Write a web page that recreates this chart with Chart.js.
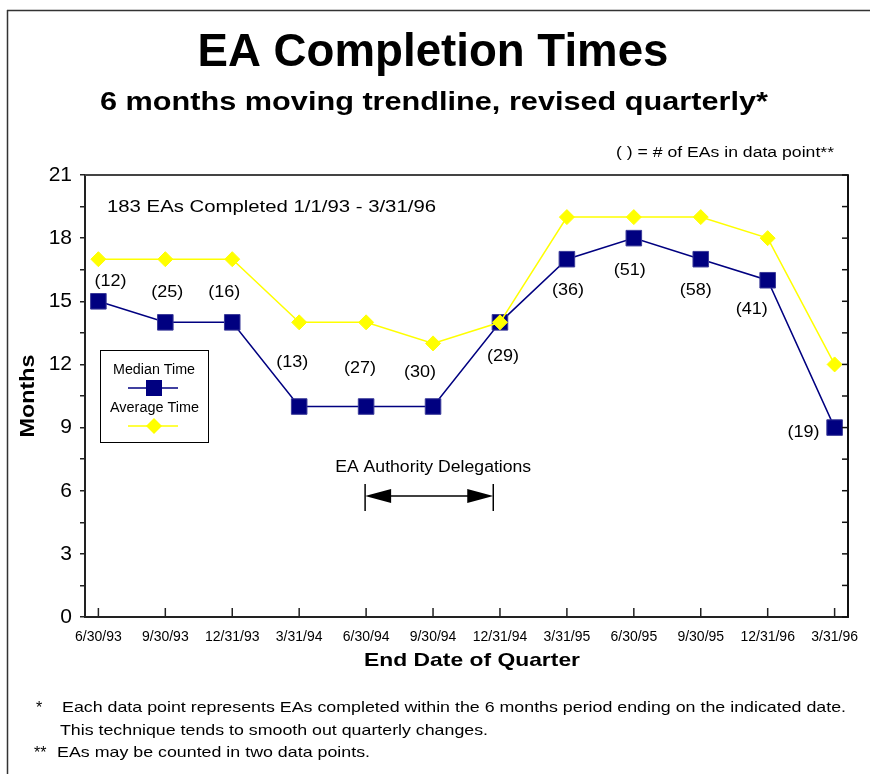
<!DOCTYPE html>
<html>
<head>
<meta charset="utf-8">
<script src="https://cdn.jsdelivr.net/npm/chart.js@4.4.1/dist/chart.umd.min.js"></script>
<style>
  html, body { margin: 0; padding: 0; background: #fff; }
  #wrap { width: 870px; height: 774px; position: relative; }
</style>
</head>
<body>
<div id="wrap"><canvas id="c" width="870" height="774"></canvas></div>
<script>
// ---- data ----
const quarters = ['6/30/93','9/30/93','12/31/93','3/31/94','6/30/94','9/30/94','12/31/94','3/31/95','6/30/95','9/30/95','12/31/96','3/31/96'];
const medianTime = [15, 14, 14, 10, 10, 10, 14, 17, 18, 17, 16, 9];
const averageTime = [17, 17, 17, 14, 14, 13, 14, 19, 19, 19, 18, 12];
const eaCounts = [12, 25, 16, 13, 27, 30, 29, 36, 51, 58, 41, 19];
const yTickStep = 1.5;
const yMax = 21;
const delegationStart = 4;     // 6/30/94
const delegationEnd = 5.9;     // just before 12/31/94
const delegationLevel = 5.75;

// ---- layout (pixel offsets of count labels relative to median points) ----
const countLabelOffsets = [[12,-20],[2,-30],[-8,-30],[-7,-44],[-6,-38],[-13,-34],[3,34],[1,31],[-4,32],[-5,31],[-16,29],[-31,5]];

const FONT = '"Liberation Sans", Arial, sans-serif';
const NARROW = '"Liberation Sans Narrow", "Liberation Sans", Arial, sans-serif';

function txt(ctx, s, x, y, font, align, w) {
  ctx.save();
  ctx.font = font;
  ctx.textBaseline = 'middle';
  ctx.fillStyle = '#000';
  ctx.textAlign = align || 'left';
  const m = ctx.measureText(s).width;
  const sx = w ? w / m : 1;
  ctx.translate(x, y);
  ctx.scale(sx, 1);
  ctx.fillText(s, 0, 0);
  ctx.restore();
}
function line(ctx, x1, y1, x2, y2, color, w) {
  ctx.save();
  ctx.strokeStyle = color; ctx.lineWidth = w;
  ctx.beginPath(); ctx.moveTo(x1, y1); ctx.lineTo(x2, y2); ctx.stroke();
  ctx.restore();
}

const decor = {
  id: 'decor',
  afterDraw(chart) {
    const ctx = chart.ctx;
    const xs = chart.scales.x, ys = chart.scales.y;
    const a = chart.chartArea;
    // outer frame
    line(ctx, 7, 10.5, 870, 10.5, '#333', 1.5);
    line(ctx, 7.5, 10, 7.5, 774, '#333', 1.5);
    // plot frame top & right
    line(ctx, a.left, a.top, a.right + 1, a.top, '#444', 2);
    line(ctx, a.right, a.top, a.right, a.bottom, '#111', 2);
    // right axis inward ticks
    for (let v = 0; v <= yMax + 1e-9; v += yTickStep) {
      const py = ys.getPixelForValue(v);
      line(ctx, a.right - 6, py, a.right, py, '#111', 1.5);
    }
    // x axis inward ticks
    quarters.forEach((q, i) => {
      const px = xs.getPixelForValue(i);
      line(ctx, px, a.bottom - 9, px, a.bottom, '#222', 1.5);
    });

    // titles
    txt(ctx, 'EA Completion Times', 433, 53, 'bold 46px ' + FONT, 'center', 471);
    txt(ctx, '6 months moving trendline, revised quarterly*', 434, 103, 'bold 26px ' + FONT, 'center', 668);
    txt(ctx, '( ) = # of EAs in data point**', 616, 153, '14px ' + FONT, 'left', 218);
    txt(ctx, '183 EAs Completed 1/1/93 - 3/31/96', 107, 207, '17px ' + FONT, 'left', 329);
    // axis titles
    ctx.save();
    ctx.translate(28, 396);
    ctx.rotate(-Math.PI / 2);
    txt(ctx, 'Months', 0, 0, 'bold 20px ' + FONT, 'center', 83);
    ctx.restore();
    txt(ctx, 'End Date of Quarter', 472, 661, 'bold 19px ' + FONT, 'center', 216);

    // count labels
    eaCounts.forEach((n, i) => {
      const px = xs.getPixelForValue(i) + countLabelOffsets[i][0];
      const py = ys.getPixelForValue(medianTime[i]) + countLabelOffsets[i][1];
      txt(ctx, '(' + n + ')', px, py, '16px ' + FONT, 'center', 32);
    });

    // delegation arrow
    const x1 = xs.getPixelForValue(delegationStart) - 1;
    const x2 = xs.getPixelForValue(delegationEnd);
    const ay = ys.getPixelForValue(delegationLevel);
    txt(ctx, 'EA Authority Delegations', (x1 + x2) / 2 + 4, ay - 28, '16px ' + FONT, 'center', 196);
    line(ctx, x1, ay - 12, x1, ay + 15, '#000', 1.5);
    line(ctx, x2, ay - 12, x2, ay + 15, '#000', 1.5);
    line(ctx, x1 + 20, ay, x2 - 20, ay, '#000', 1.5);
    ctx.save();
    ctx.fillStyle = '#000';
    ctx.beginPath(); ctx.moveTo(x1, ay); ctx.lineTo(x1 + 26, ay - 7); ctx.lineTo(x1 + 26, ay + 7); ctx.closePath(); ctx.fill();
    ctx.beginPath(); ctx.moveTo(x2, ay); ctx.lineTo(x2 - 26, ay - 7); ctx.lineTo(x2 - 26, ay + 7); ctx.closePath(); ctx.fill();
    ctx.restore();

    // legend box
    ctx.save();
    ctx.strokeStyle = '#000'; ctx.lineWidth = 1;
    ctx.strokeRect(100.5, 350.5, 108, 92);
    ctx.restore();
    const ds = chart.data.datasets;
    const med = ds.find(d => d.key === 'median');
    const avg = ds.find(d => d.key === 'average');
    txt(ctx, med.label, 154, 370, '14px ' + FONT, 'center', 82);
    line(ctx, 128, 388, 178, 388, med.borderColor, med.borderWidth);
    ctx.save(); ctx.fillStyle = med.pointBackgroundColor; ctx.fillRect(154 - 8, 388 - 8, 16, 16); ctx.restore();
    txt(ctx, avg.label, 154.5, 408, '14px ' + FONT, 'center', 89);
    line(ctx, 128, 426, 178, 426, avg.borderColor, avg.borderWidth);
    ctx.save(); ctx.fillStyle = avg.pointBackgroundColor;
    ctx.beginPath(); ctx.moveTo(154, 418); ctx.lineTo(162, 426); ctx.lineTo(154, 434); ctx.lineTo(146, 426); ctx.closePath(); ctx.fill(); ctx.restore();

    // footnotes
    txt(ctx, '*', 36, 709, '16px ' + FONT, 'left');
    txt(ctx, 'Each data point represents EAs completed within the 6 months period ending on the indicated date.', 62, 708, '15px ' + NARROW, 'left', 784);
    txt(ctx, 'This technique tends to smooth out quarterly changes.', 60, 731, '15px ' + NARROW, 'left', 428);
    txt(ctx, '**', 34, 754, '16px ' + FONT, 'left');
    txt(ctx, 'EAs may be counted in two data points.', 57, 753, '15px ' + NARROW, 'left', 313);
  }
};

const toPts = arr => arr.map((v, i) => ({ x: i, y: v }));

new Chart(document.getElementById('c'), {
  type: 'line',
  data: {
    datasets: [
      {
        key: 'average',
        label: 'Average Time',
        data: toPts(averageTime),
        borderColor: '#ffff00',
        backgroundColor: '#ffff00',
        pointBackgroundColor: '#ffff00',
        pointBorderColor: '#ffff00',
        borderWidth: 1.5,
        pointStyle: 'rectRot',
        pointRadius: 7.5,
        pointBorderWidth: 1,
        tension: 0,
        order: 0
      },
      {
        key: 'median',
        label: 'Median Time',
        data: toPts(medianTime),
        borderColor: '#000080',
        backgroundColor: '#000080',
        pointBackgroundColor: '#000080',
        pointBorderColor: '#3a3a99',
        borderWidth: 1.5,
        pointStyle: 'rect',
        pointRadius: 11,
        pointBorderWidth: 1,
        tension: 0,
        order: 1
      }
    ]
  },
  options: {
    responsive: false,
    animation: false,
    events: [],
    layout: { padding: { top: 175, right: 22, left: 0, bottom: 0 } },
    plugins: { legend: { display: false }, title: { display: false }, tooltip: { enabled: false } },
    scales: {
      x: {
        type: 'linear',
        min: -0.2,
        max: 11.2,
        afterBuildTicks: s => { s.ticks = quarters.map((q, i) => ({ value: i })); },
        afterFit: s => { s.height = 157; s.paddingLeft = 0; s.paddingRight = 0; },
        grid: { display: false, drawTicks: false },
        border: { display: true, color: '#222', width: 2 },
        ticks: {
          autoSkip: false,
          maxRotation: 0,
          minRotation: 0,
          padding: 12,
          color: '#000',
          font: { family: FONT, size: 14 },
          callback: v => quarters[v]
        }
      },
      y: {
        type: 'linear',
        min: 0,
        max: yMax,
        afterFit: s => { s.width = 85; s.paddingTop = 0; s.paddingBottom = 0; },
        afterBuildTicks: s => {
          const t = [];
          for (let v = 0; v <= yMax + 1e-9; v += yTickStep) t.push({ value: v });
          s.ticks = t;
        },
        grid: { drawOnChartArea: false, drawTicks: true, tickLength: 5, color: '#222', lineWidth: 1.5 },
        border: { display: true, color: '#222', width: 2 },
        ticks: {
          padding: 8,
          color: '#000',
          font: { family: FONT, size: 21 },
          callback: v => (Math.abs(v % 3) < 1e-9 ? String(v) : '')
        }
      }
    }
  },
  plugins: [decor]
});
</script>
</body>
</html>
